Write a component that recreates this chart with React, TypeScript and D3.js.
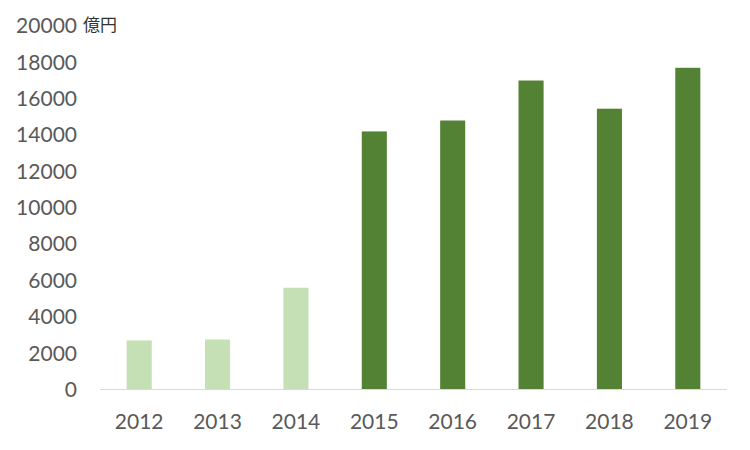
import React from "react";
import * as d3 from "d3";

const years = ["2012", "2013", "2014", "2015", "2016", "2017", "2018", "2019"];
const values = [2700, 2750, 5600, 14200, 14800, 17000, 15450, 17700];
const barColors = ["#C5E0B4", "#C5E0B4", "#C5E0B4", "#548235", "#548235", "#548235", "#548235", "#548235"];
const yTicks = [0, 2000, 4000, 6000, 8000, 10000, 12000, 14000, 16000, 18000, 20000];
const unitLabel = "億円";

export default function App() {
  const W = 750, H = 450;
  const left = 100, right = 727, top = 26, bottom = 389.5;
  const x = d3.scaleBand<string>().domain(years).range([left, right]).padding(0);
  const y = d3.scaleLinear().domain([0, 20000]).range([bottom, top]);
  const bw = x.bandwidth() * 0.32;
  const font = "Lato, 'Open Sans', sans-serif";
  return (
    <div style={{ position: "absolute", left: 0, top: 0 }}>
      <svg width={W} height={H} style={{ display: "block" }}>
        <rect width={W} height={H} fill="#fff" />
        {years.map((yr, i) => (
          <rect key={yr} x={(x(yr) as number) + x.bandwidth() / 2 - bw / 2} y={y(values[i])}
            width={bw} height={y(0) - y(values[i])} fill={barColors[i]} />
        ))}
        <line x1={left} x2={right} y1={bottom} y2={bottom} stroke="#D9D9D9" strokeWidth={1.2} />
        {yTicks.map((t) => (
          <text key={t} x={77} y={y(t)} dy="0.35em" textAnchor="end" fontFamily={font} fontSize={21} fill="#595959">{t}</text>
        ))}
        {years.map((yr) => (
          <text key={yr} x={(x(yr) as number) + x.bandwidth() / 2} y={422} dy="0.35em" textAnchor="middle" fontFamily={font} fontSize={21} fill="#595959">{yr}</text>
        ))}
        <text x={83} y={y(20000) - 1} dy="0.35em" fontFamily="'Noto Sans CJK JP', sans-serif" fontSize={17} fill="#333">{unitLabel}</text>
      </svg>
    </div>
  );
}
